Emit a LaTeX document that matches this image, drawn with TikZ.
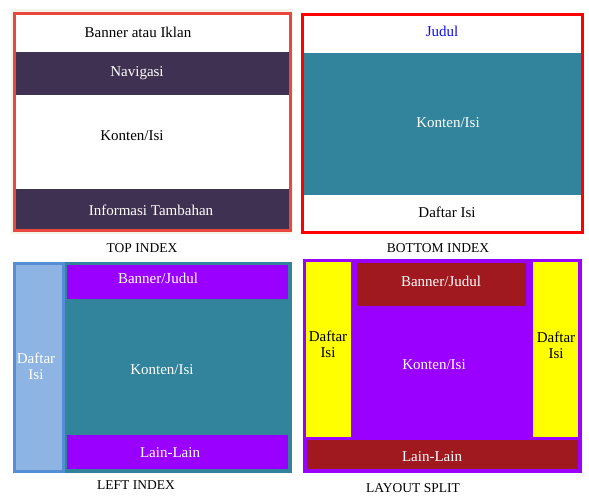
\documentclass[tikz,border=0pt]{standalone}
\usepackage{fontspec}
\setmainfont{Liberation Serif}
\usepackage{xcolor}
\definecolor{halo}{HTML}{F4F5EA}
\definecolor{softred}{HTML}{E8483F}
\definecolor{plum}{HTML}{3F3151}
\definecolor{teal}{HTML}{31849B}
\definecolor{judulblue}{HTML}{1010E8}
\definecolor{skyfill}{HTML}{8EB4E3}
\definecolor{skyline}{HTML}{558ED5}
\definecolor{violet}{HTML}{9900FF}
\definecolor{maroon}{HTML}{A0191E}
\definecolor{lemon}{HTML}{FFFF00}
\tikzset{
  frame/.style={line width=3pt},
  lab/.style={text=black, inner sep=0pt, align=center, font=\fontsize{15}{16}\selectfont},
  labw/.style={lab, text=white},
  capt/.style={text=black, inner sep=0pt, font=\fontsize{13.5}{15}\selectfont},
}
\begin{document}
\begin{tikzpicture}[x=1pt,y=-1pt]
  \useasboundingbox (0,0) rectangle (589,499);
  % top index
  \fill[halo] (11,9) rectangle (293,234);
  \fill[white] (14,13) rectangle (291,231);
  \fill[plum] (15,52) rectangle (290,95);
  \fill[plum] (15,189) rectangle (290,229);
  \draw[frame, draw=softred] (14.5,13.5) rectangle (290.5,230.5);
  \node[lab] (banner) at (138,32) {Banner atau Iklan};
  \node[labw] (navigasi) at (137,73) {Navigasi};
  \node[lab] (kontenA) at (132,136) {Konten/Isi};
  \node[labw] (info) at (151,210) {Informasi Tambahan};
  \node[capt] (top) at (142,248) {TOP INDEX};
  % bottom index
  \fill[white] (301,13) rectangle (584,234);
  \fill[teal] (302,53) rectangle (581,195);
  \draw[frame, draw=red] (302.5,14.5) rectangle (582.5,232.5);
  \node[lab, text=judulblue] (judul) at (442,31) {Judul};
  \node[labw] (kontenB) at (448,123) {Konten/Isi};
  \node[lab] (daftarB) at (447,212) {Daftar Isi};
  \node[capt] (bottom) at (438,248) {BOTTOM INDEX};
  % left index
  \fill[teal] (13,262) rectangle (292,473);
  \fill[skyfill] (13,262) rectangle (65,473);
  \draw[frame, draw=skyline] (14.5,263.5) rectangle (63.5,471.5);
  \fill[violet] (67,265) rectangle (288,299);
  \fill[violet] (67,435) rectangle (288,469);
  \node[labw] (bannerC) at (158,278) {Banner/Judul};
  \node[labw] (kontenC) at (162,370) {Konten/Isi};
  \node[labw] (lainC) at (170,453) {Lain-Lain};
  \node[labw] (daftarC) at (36,366) {Daftar\\Isi};
  \node[capt] (left) at (136,485) {LEFT INDEX};
  % layout split
  \fill[violet] (303,259) rectangle (582,473);
  \fill[lemon] (306,262) rectangle (351,437);
  \fill[lemon] (533,262) rectangle (578,437);
  \fill[maroon] (357,263) rectangle (526,306);
  \fill[maroon] (307,440) rectangle (578,469);
  \node[labw] (bannerD) at (441,281) {Banner/Judul};
  \node[labw] (kontenD) at (434,365) {Konten/Isi};
  \node[labw] (lainD) at (432,457) {Lain-Lain};
  \node[lab] (daftarL) at (328,344) {Daftar\\Isi};
  \node[lab] (daftarR) at (556,345) {Daftar\\Isi};
  \node[capt] (split) at (413,488) {LAYOUT SPLIT};
\end{tikzpicture}
\end{document}
